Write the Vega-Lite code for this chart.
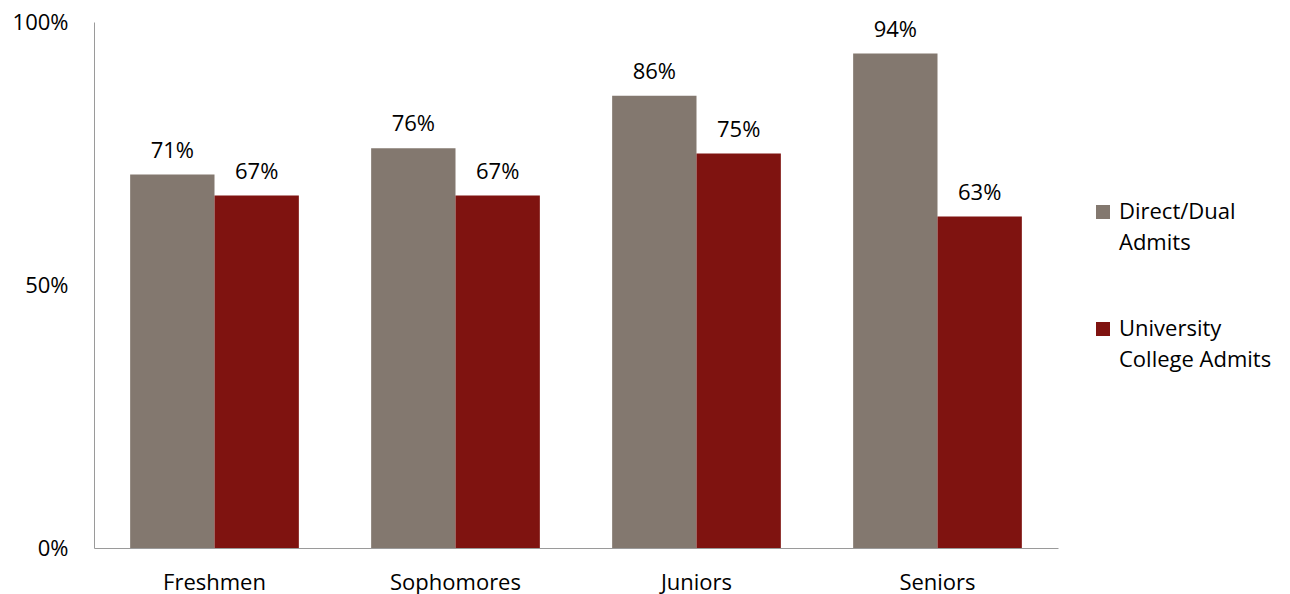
{
  "$schema": "https://vega.github.io/schema/vega-lite/v6.json",
  "width": 964,
  "height": 526,
  "autosize": {"type": "none"},
  "padding": {"left": 94, "top": 22, "right": 232, "bottom": 46},
  "background": "white",
  "config": {
    "view": {"stroke": null},
    "font": "Open Sans",
    "axis": {"labelFont": "Open Sans", "labelFontSize": 22, "labelColor": "#000000", "domainColor": "#9a9a9a", "ticks": false, "grid": false, "title": null},
    "legend": {"labelFont": "Open Sans", "labelFontSize": 22, "labelColor": "#000000"}
  },
  "data": {
    "values": [
      {"cls": "Freshmen", "group": "Direct/Dual Admits", "v": 0.71},
      {"cls": "Freshmen", "group": "University College Admits", "v": 0.67},
      {"cls": "Sophomores", "group": "Direct/Dual Admits", "v": 0.76},
      {"cls": "Sophomores", "group": "University College Admits", "v": 0.67},
      {"cls": "Juniors", "group": "Direct/Dual Admits", "v": 0.86},
      {"cls": "Juniors", "group": "University College Admits", "v": 0.75},
      {"cls": "Seniors", "group": "Direct/Dual Admits", "v": 0.94},
      {"cls": "Seniors", "group": "University College Admits", "v": 0.63}
    ]
  },
  "encoding": {
    "x": {"field": "cls", "type": "nominal", "sort": null, "scale": {"paddingInner": 0.3, "paddingOuter": 0.15},
          "axis": {"labelAngle": 0, "labelPadding": 24, "domainWidth": 1}},
    "xOffset": {"field": "group", "type": "nominal", "sort": null},
    "y": {"field": "v", "type": "quantitative", "scale": {"domain": [0, 1], "nice": false},
          "axis": {"values": [0, 0.5, 1], "format": ".0%", "labelPadding": 26}}
  },
  "layer": [
    {
      "mark": {"type": "bar"},
      "encoding": {
        "color": {"field": "group", "type": "nominal", "sort": null,
                  "scale": {"range": ["#83786F", "#7F1310"]},
                  "legend": {"title": null, "orient": "none", "legendX": 998, "legendY": 179,
                             "symbolType": "square", "symbolSize": 196, "symbolStrokeWidth": 0,
                             "rowPadding": 64, "labelOffset": 5,
                             "encode": {"labels": {"update": {"lineHeight": {"value": 31}}}},
                             "labelExpr": "datum.label == 'Direct/Dual Admits' ? ['Direct/Dual', 'Admits'] : ['University', 'College Admits']"}}
      }
    },
    {
      "mark": {"type": "text", "baseline": "bottom", "dy": -12, "fontSize": 22, "color": "#000000"},
      "encoding": {"text": {"field": "v", "type": "quantitative", "format": ".0%"}}
    }
  ]
}
